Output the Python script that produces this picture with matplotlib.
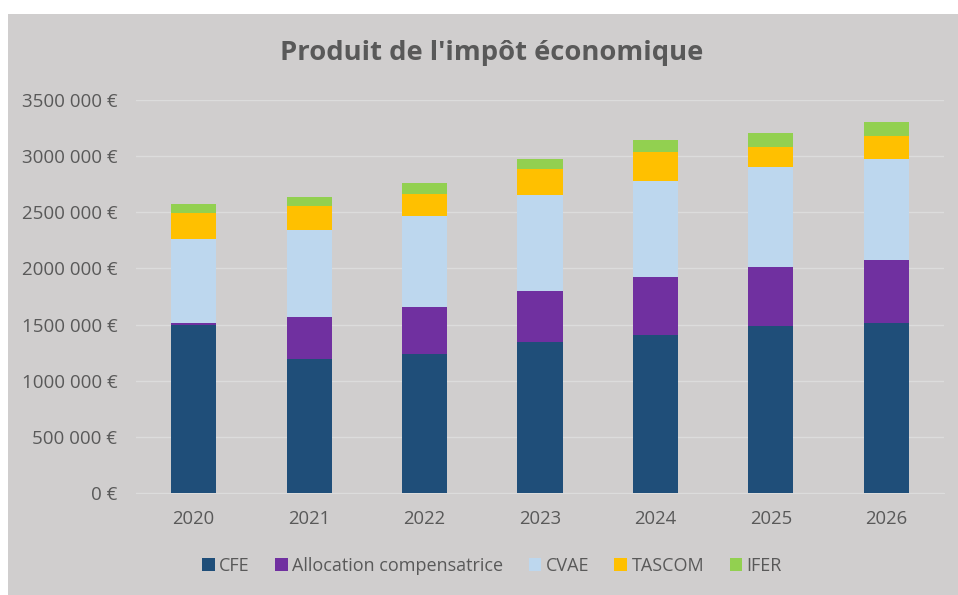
import matplotlib.pyplot as plt
from matplotlib.patches import Rectangle
from matplotlib.ticker import FuncFormatter

# Données (en euros)
annees = ["2020", "2021", "2022", "2023", "2024", "2025", "2026"]
cfe = [1499000, 1190000, 1238000, 1347000, 1407000, 1487000, 1516000]
allocation = [18000, 375000, 418000, 449000, 514000, 528000, 559000]
cvae = [745000, 774000, 808000, 855000, 854000, 885000, 899000]
tascom = [231000, 217000, 201000, 234000, 264000, 184000, 208000]
ifer = [80000, 80000, 95000, 89000, 107000, 124000, 122000]

series = [cfe, allocation, cvae, tascom, ifer]
noms = ["CFE", "Allocation compensatrice", "CVAE", "TASCOM", "IFER"]
couleurs = ["#1F4E79", "#7030A0", "#BDD7EE", "#FFC000", "#92D050"]

plt.rcParams['font.family'] = ['Open Sans', 'DejaVu Sans']
gris_texte = "#595959"
fond = "#D0CECE"

W, H = 958, 595
fig = plt.figure(figsize=(W / 100, H / 100), dpi=100)
fig.patch.set_facecolor("white")
# zone grise du graphique (marge blanche en haut et à gauche)
fig.patches.append(Rectangle((8 / W, 0), 1 - 8 / W, (H - 14) / H,
                             transform=fig.transFigure, facecolor=fond,
                             edgecolor="none", zorder=-10))

ax = fig.add_axes([136 / W, (H - 493) / H, (944 - 136) / W, (493 - 100) / H])
ax.set_facecolor("none")
ax.set_zorder(1)

x = range(len(annees))
bas = [0] * len(annees)
for valeurs, nom, c in zip(series, noms, couleurs):
    ax.bar(x, valeurs, bottom=bas, width=0.39, color=c, label=nom, zorder=3)
    bas = [b + v for b, v in zip(bas, valeurs)]

ax.set_xlim(-0.5, len(annees) - 0.5)
ax.set_ylim(0, 3500000)
ax.set_yticks(range(0, 3500001, 500000))


def euros(v, pos):
    v = int(round(v))
    if v == 0:
        return "0 €"
    return "{} 000 €".format(v // 1000)


ax.yaxis.set_major_formatter(FuncFormatter(euros))
ax.set_xticks(list(x))
ax.set_xticklabels(annees)
ax.tick_params(axis="both", length=0, colors=gris_texte)
ax.tick_params(axis="x", pad=12, labelsize=13.3)
ax.tick_params(axis="y", pad=13.5, labelsize=13.5)
ax.grid(axis="y", color="#DCDCDC", linewidth=1, zorder=0)
for s in ["top", "right", "left"]:
    ax.spines[s].set_visible(False)
ax.spines["bottom"].set_color("#DCDCDC")

fig.text(492 / W, (H - 53) / H, "Produit de l'impôt économique", ha="center",
         va="center", fontsize=19.7, fontweight="bold", color=gris_texte)

leg = fig.legend(loc="center", bbox_to_anchor=(492 / W, (H - 566) / H), ncol=5,
                 frameon=False, fontsize=13, handlelength=0.7, handleheight=0.7,
                 handletextpad=0.25, columnspacing=1.4)
for t in leg.get_texts():
    t.set_color(gris_texte)

fig.savefig("out.png", dpi=100, facecolor=fig.get_facecolor())
